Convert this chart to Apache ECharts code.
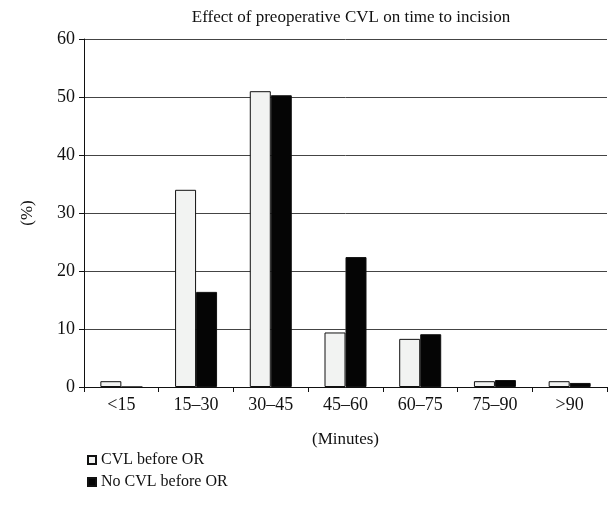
<!DOCTYPE html>
<html>

<head>
  <meta charset="utf-8">
  <title>Effect of preoperative CVL on time to incision</title>
  <script src="https://cdn.jsdelivr.net/npm/echarts@6/dist/echarts.min.js"></script>
  <style>
    html, body {
      margin: 0;
      padding: 0;
      background: #fff;
    }

    #main {
      width: 610px;
      height: 518px;
    }
  </style>
</head>

<body>
  <div id="main"></div>
  <script>
    // data
    var categories = ['<15', '15\u201330', '30\u201345', '45\u201360', '60\u201375', '75\u201390', '>90'];
    var cvlBefore = [1.0, 34.0, 51.0, 9.4, 8.3, 1.0, 1.0];
    var noCvlBefore = [0, 16.4, 50.3, 22.4, 9.1, 1.2, 0.7];
    var seriesNames = ['CVL before OR', 'No CVL before OR'];

    var font = 'Liberation Serif';
    var chart = echarts.init(document.getElementById('main'));

    var option = {
      animation: false,
      textStyle: { fontFamily: font, color: '#111' },
      title: {
        text: 'Effect of preoperative CVL on time to incision',
        left: 346,
        textAlign: 'center',
        top: 4,
        textStyle: { fontFamily: font, fontSize: 17, fontWeight: 'normal', color: '#111' }
      },
      legend: {
        orient: 'vertical',
        left: 82,
        top: 447,
        itemWidth: 8,
        itemHeight: 8,
        itemGap: 6,
        icon: 'rect',
        textStyle: { fontFamily: font, fontSize: 16, color: '#111' },
        data: seriesNames
      },
      grid: {
        left: 84,
        right: 3,
        top: 39,
        bottom: 131,
        containLabel: false
      },
      xAxis: {
        type: 'category',
        data: categories,
        name: '(Minutes)',
        nameLocation: 'middle',
        nameGap: 44,
        nameTextStyle: { fontFamily: font, fontSize: 17, color: '#111' },
        axisLine: { lineStyle: { color: '#111', width: 1 } },
        axisTick: { show: true, length: 5, inside: false, lineStyle: { color: '#111' } },
        axisLabel: { fontFamily: font, fontSize: 18, color: '#111', margin: 9 }
      },
      yAxis: {
        type: 'value',
        min: 0,
        max: 60,
        interval: 10,
        name: '(%)',
        nameLocation: 'middle',
        nameGap: 48,
        nameRotate: 90,
        nameTextStyle: { fontFamily: font, fontSize: 17, color: '#111' },
        axisLine: { show: true, lineStyle: { color: '#111', width: 1 } },
        axisTick: { show: true, length: 5, lineStyle: { color: '#111' } },
        axisLabel: { fontFamily: font, fontSize: 18, color: '#111', margin: 9 },
        splitLine: { show: true, lineStyle: { color: '#444', width: 1 } }
      },
      series: [
        {
          name: seriesNames[0],
          type: 'bar',
          data: cvlBefore,
          barWidth: 21,
          barGap: '0%',
          itemStyle: { color: '#f2f3f2', borderColor: '#111', borderWidth: 1 }
        },
        {
          name: seriesNames[1],
          type: 'bar',
          data: noCvlBefore,
          barWidth: 21,
          barGap: '0%',
          itemStyle: { color: '#050505', borderColor: '#111', borderWidth: 1 }
        }
      ]
    };

    chart.setOption(option);
  </script>
</body>

</html>
